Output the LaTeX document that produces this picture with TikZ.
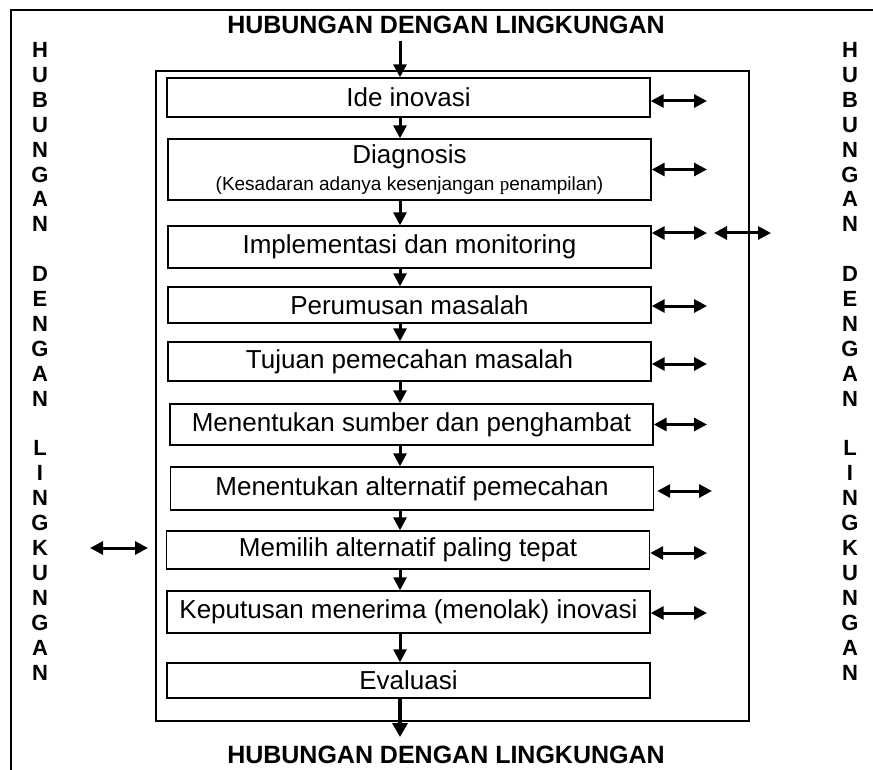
\documentclass[tikz,border=0pt]{standalone}
\usepackage{fontspec}
\setmainfont{Liberation Sans}
\newfontfamily\serifp{Liberation Serif}
\usetikzlibrary{arrows.meta}
\begin{document}
\begin{tikzpicture}[x=1pt,y=-1pt,
  stepbox/.style={draw, line width=1.4pt, inner sep=0pt, minimum width=483pt, minimum height=39pt, font=\fontsize{26}{30}\selectfont},
  flow/.style={-{Triangle[length=13pt,width=13pt]}, line width=3pt},
  dbl/.style={{Triangle[length=13pt,width=13pt]}-{Triangle[length=13pt,width=13pt]}, line width=3pt},
  titletext/.style={font=\fontsize{25}{29}\selectfont\bfseries, inner sep=0pt},
  vlet/.style={font=\fontsize{22}{26}\selectfont\bfseries, inner sep=0pt}
]
\useasboundingbox (0,0) rectangle (873,770);
% page frame
\draw[line width=2pt] (11,770) -- (11,10) -- (873,10);
% outer box
\draw[line width=1.4pt] (156,71) rectangle (749,721);
% titles
\node[titletext] (ttop) at (446,25) {HUBUNGAN DENGAN LINGKUNGAN};
\node[titletext] (tbot) at (446,755) {HUBUNGAN DENGAN LINGKUNGAN};
% steps
\node[stepbox] (ide) at (408.5,97.5) {Ide inovasi};
\node[stepbox, minimum height=61pt] (diag) at (409.5,169.5) {};
\node[font=\fontsize{26}{30}\selectfont, inner sep=0pt] (diagt) at (409.5,157) {Diagnosis};
\node[font=\fontsize{19}{22}\selectfont, inner sep=0pt] (diags) at (409.5,186) {(Kesadaran adanya kesenjangan {\serifp p}enampilan)};
\node[stepbox, minimum height=42pt] (impl) at (409.5,247) {Implementasi dan monitoring};
\node[stepbox, minimum height=36pt] (peru) at (409.5,305) {Perumusan masalah};
\node[stepbox, minimum height=39pt] (tuju) at (409.5,361.5) {Tujuan pemecahan masalah};
\node[stepbox, minimum height=41pt] (sumb) at (411.5,424.5) {Menentukan sumber dan penghambat};
\node[stepbox, minimum height=43pt] (alt) at (412,488.5) {Menentukan alternatif pemecahan};
\node[stepbox, minimum height=38pt] (pilih) at (408,550) {Memilih alternatif paling tepat};
\node[stepbox, minimum height=42pt] (kepu) at (408.5,612) {Keputusan menerima (menolak) inovasi};
\node[stepbox, minimum height=35pt] (eval) at (408.5,680.5) {Evaluasi};
% flow arrows
\coordinate (ax) at (400,0);
\coordinate (topin) at (400,41);
\coordinate (botout) at (400,737);
\draw[flow] (topin) -- (ide.north -| ax);
\draw[flow] (ide.south -| ax) -- (diag.north -| ax);
\draw[flow] (diag.south -| ax) -- (impl.north -| ax);
\draw[flow] (impl.south -| ax) -- (peru.north -| ax);
\draw[flow] (peru.south -| ax) -- (tuju.north -| ax);
\draw[flow] (tuju.south -| ax) -- (sumb.north -| ax);
\draw[flow] (sumb.south -| ax) -- (alt.north -| ax);
\draw[flow] (alt.south -| ax) -- (pilih.north -| ax);
\draw[flow] (pilih.south -| ax) -- (kepu.north -| ax);
\draw[flow] (kepu.south -| ax) -- (eval.north -| ax);
\draw[flow, line width=3.8pt, -{Triangle[length=14pt,width=15pt]}] (eval.south -| ax) -- (botout);
% side arrows
\coordinate (rx) at (707,0);
\draw[dbl] ([yshift=-3.5pt]ide.east) -- ([yshift=-3.5pt]ide.east -| rx);
\draw[dbl] (diag.east) -- (diag.east -| rx);
\draw[dbl] ([yshift=14pt]impl.east) -- ([yshift=14pt]impl.east -| rx);
\coordinate (i2a) at (714,233);
\coordinate (i2b) at (771,233);
\draw[dbl] (i2a) -- (i2b);
\draw[dbl] ([yshift=-1pt]peru.east) -- ([yshift=-1pt]peru.east -| rx);
\draw[dbl] ([yshift=-2.5pt]tuju.east) -- ([yshift=-2.5pt]tuju.east -| rx);
\draw[dbl] (sumb.east) -- (sumb.east -| rx);
\coordinate (rx2) at (712,0);
\draw[dbl] ([xshift=3pt,yshift=-2.5pt]alt.east) -- ([yshift=-2.5pt]alt.east -| rx2);
\draw[dbl] ([yshift=-3pt]pilih.east) -- ([yshift=-3pt]pilih.east -| rx);
\draw[dbl] ([yshift=-1pt]kepu.east) -- ([yshift=-1pt]kepu.east -| rx);
\coordinate (la) at (90,548);
\coordinate (lb) at (148,548);
\draw[dbl] (la) -- (lb);
% vertical letters
\foreach \i/\c in {0/H,1/U,2/B,3/U,4/N,5/G,6/A,7/N,9/D,10/E,11/N,12/G,13/A,14/N,16/L,17/I,18/N,19/G,20/K,21/U,22/N,23/G,24/A,25/N}{
  \node[vlet] (lv\i) at (40,50+24.9*\i) {\c};
  \node[vlet] (rv\i) at (850,50+24.9*\i) {\c};
}
\end{tikzpicture}
\end{document}
